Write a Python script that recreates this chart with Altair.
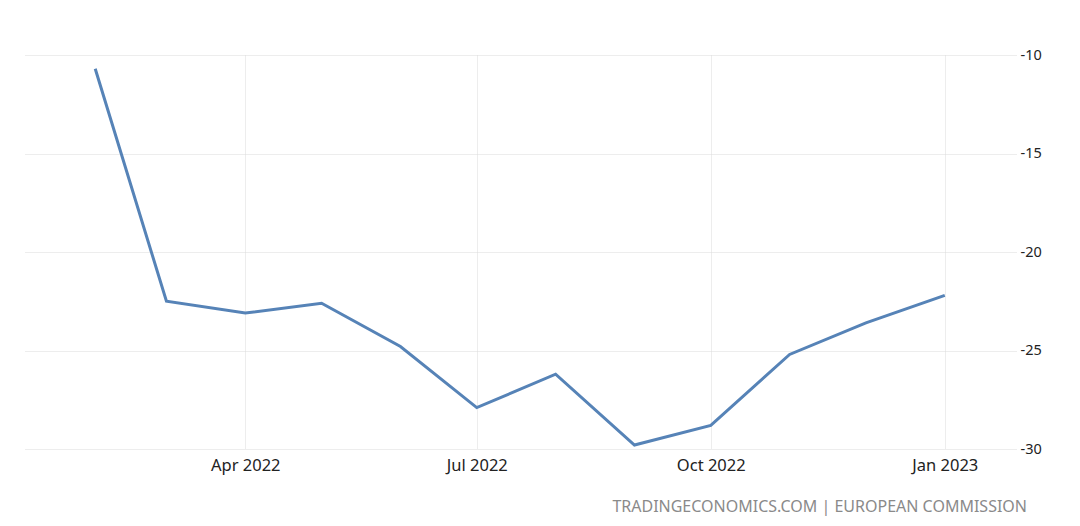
import altair as alt
import pandas as pd

months = ["2022-02-01", "2022-03-01", "2022-04-01", "2022-05-01", "2022-06-01", "2022-07-01",
          "2022-08-01", "2022-09-01", "2022-10-01", "2022-11-01", "2022-12-01", "2023-01-01"]
values = [-10.7, -22.5, -23.1, -22.6, -24.8, -27.9, -26.2, -29.8, -28.8, -25.2, -23.6, -22.2]
y_ticks = [-30, -25, -20, -15, -10]
source_text = "TRADINGECONOMICS.COM | EUROPEAN COMMISSION"

df = pd.DataFrame({"date": [m + "T00:00:00" for m in months], "value": values})

FONT = "Noto Sans"
GRID = "#dadada"

x_enc = alt.X(
    "date:T",
    scale=alt.Scale(domain=[alt.DateTime(year=2022, month=1, date=4),
                            alt.DateTime(year=2023, month=1, date=29)]),
    axis=alt.Axis(
        values=[alt.DateTime(year=2022, month=4, date=1),
                alt.DateTime(year=2022, month=7, date=1),
                alt.DateTime(year=2022, month=10, date=1),
                alt.DateTime(year=2023, month=1, date=1)],
        format="%b %Y", title=None, domain=False, ticks=False,
        labelPadding=8, labelFontSize=16.5, labelFont=FONT, labelColor="#222222",
        grid=True, gridColor=GRID, gridWidth=1, gridDash=[1, 1],
    ),
)
y_enc = alt.Y(
    "value:Q",
    scale=alt.Scale(domain=[-30, -10], nice=False, zero=False),
    axis=alt.Axis(
        orient="right", values=y_ticks, title=None, domain=False, ticks=False,
        labelExpr="'' + datum.value",
        labelPadding=4, labelFontSize=14.5, labelFont=FONT, labelColor="#222222",
        grid=True, gridColor=GRID, gridWidth=1, gridDash=[1, 1],
    ),
)

line = alt.Chart(df).mark_line(color="#5683b7", strokeWidth=3).encode(x=x_enc, y=y_enc)

footer = alt.Chart(pd.DataFrame({"t": [source_text]})).mark_text(
    align="right", baseline="middle", fontSize=16, font=FONT, color="#8a8a8a"
).encode(text="t:N", x=alt.value(1003), y=alt.value(452))

chart = alt.layer(line, footer).properties(
    width=992, height=394,
    padding={"left": 16, "top": 47, "right": 56, "bottom": 69},
    autosize=alt.AutoSizeParams(type="none"),
    background="white",
).configure_view(strokeWidth=0)

chart.save("out.html", embed_options={"renderer": "svg", "actions": False})
